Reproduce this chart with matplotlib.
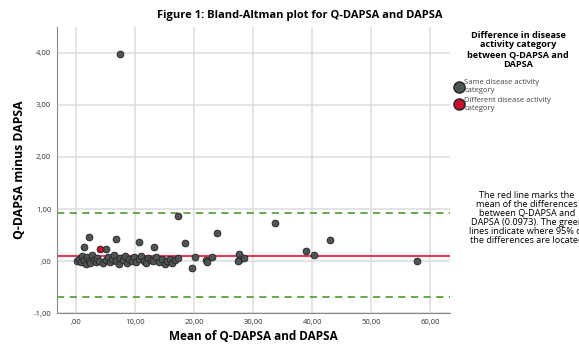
import numpy as np
import matplotlib.pyplot as plt
from matplotlib.lines import Line2D

# Datos (media, diferencia)
media_igual = [0.2, 0.5, 0.8, 1.0, 1.3, 1.6, 1.9, 2.1, 2.4, 2.7, 3.0, 3.3, 3.6, 3.9,
               4.6, 5.0, 5.4, 5.7, 6.0, 6.4, 6.8, 7.2, 7.5, 7.9, 8.3, 8.6, 9.0,
               9.4, 9.8, 10.2, 10.6, 11.0, 11.4, 11.8, 12.2, 12.6, 13.0, 13.5, 14.0,
               14.5, 15.0, 15.4, 15.9, 16.3, 16.8, 17.2,
               2.2, 6.7, 1.4, 5.1, 10.7, 13.2, 7.4, 17.3, 18.4, 19.6, 20.1,
               22.0, 22.2, 23.0, 23.9, 27.5, 27.6, 27.4, 28.5, 33.7, 38.9, 40.3,
               43.0, 57.8]
dif_igual = [0.00, 0.05, -0.02, 0.10, 0.02, -0.05, 0.08, 0.00, -0.03, 0.12, 0.03, -0.02,
             0.06, 0.00, -0.04, 0.02, 0.08, -0.01, 0.04, 0.12, 0.00, -0.05, 0.06,
             0.02, 0.10, -0.03, 0.05, 0.00, 0.08, -0.02, 0.04, 0.10, 0.00, -0.04, 0.06,
             0.02, 0.00, 0.08, -0.02, 0.04, -0.06, 0.00, 0.05, -0.03, 0.02, 0.06,
             0.47, 0.43, 0.27, 0.24, 0.37, 0.27, 3.97, 0.86, 0.34, -0.13, 0.08,
             0.02, -0.01, 0.08, 0.54, 0.13, 0.03, 0.00, 0.06, 0.74, 0.20, 0.11,
             0.41, 0.00]
media_dif = [4.1]
dif_dif = [0.24]

media_diferencias = 0.0973
lim_sup = 0.92
lim_inf = -0.69

x_ticks = [0, 10, 20, 30, 40, 50, 60]
x_labels = [",00", "10,00", "20,00", "30,00", "40,00", "50,00", "60,00"]
y_ticks = [-1, 0, 1, 2, 3, 4]
y_labels = ["-1,00", ",00", "1,00", "2,00", "3,00", "4,00"]

plt.rcParams['font.family'] = ['Open Sans', 'DejaVu Sans']

fig = plt.figure(figsize=(5.79, 3.46), dpi=100)
ax = fig.add_axes([0.098, 0.0945, 0.68, 0.8285])

ax.axhline(lim_sup, color="#5aa33f", lw=1.3, ls=(0, (4, 3)), zorder=2)
ax.axhline(lim_inf, color="#5aa33f", lw=1.3, ls=(0, (4, 3)), zorder=2)
ax.axhline(media_diferencias, color="#e8385e", lw=1.5, zorder=2)

ax.scatter(media_igual, dif_igual, s=24, color="#4f5553", edgecolor="#222222",
           linewidth=0.6, zorder=3)
ax.scatter(media_dif, dif_dif, s=24, color="#c8102e", edgecolor="#222222",
           linewidth=0.6, zorder=3)

ax.set_xlim(-3.3, 63.4)
ax.set_ylim(-1, 4.5)
ax.set_xticks(x_ticks)
ax.set_xticklabels(x_labels)
ax.set_yticks(y_ticks)
ax.set_yticklabels(y_labels)
ax.tick_params(labelsize=5.5, colors="#333333", length=0, pad=4)
ax.grid(True, color="#dcdcdc", lw=1.1, zorder=0)
ax.set_axisbelow(True)
for s in ["top", "right"]:
    ax.spines[s].set_visible(False)
for s in ["left", "bottom"]:
    ax.spines[s].set_color("#888888")
    ax.spines[s].set_linewidth(0.8)

ax.set_xlabel("Mean of Q-DAPSA and DAPSA", fontsize=8.5, fontweight="bold", labelpad=3)
ax.set_ylabel("Q-DAPSA minus DAPSA", fontsize=8.8, fontweight="bold", labelpad=5)

fig.text(0.517, 0.955, "Figure 1: Bland-Altman plot for Q-DAPSA and DAPSA",
         ha="center", va="center", fontsize=8, fontweight="bold")

# Leyenda
fig.text(0.895, 0.856, "Difference in disease\nactivity category\nbetween Q-DAPSA and\nDAPSA",
         ha="center", va="center", fontsize=6.6, fontweight="bold", linespacing=1.1)
handles = [Line2D([], [], marker="o", ls="", markersize=8, markerfacecolor="#4f5553",
                  markeredgecolor="#222222"),
           Line2D([], [], marker="o", ls="", markersize=8, markerfacecolor="#c8102e",
                  markeredgecolor="#222222")]
fig.legend(handles, ["Same disease activity\ncategory", "Different disease activity\ncategory"],
           loc="upper left", bbox_to_anchor=(0.78, 0.78), frameon=False,
           fontsize=5.5, handletextpad=0.05, labelspacing=0.35, borderaxespad=0,
           labelcolor="#444444", handlelength=1.2)

# Texto explicativo (cortado en el borde como en el original)
fig.text(0.91, 0.37, "The red line marks the\nmean of the differences\nbetween Q-DAPSA and\n"
         "DAPSA (0.0973). The green\nlines indicate where 95% of\nthe differences are located",
         ha="center", va="center", fontsize=6.6, linespacing=1.0)

fig.savefig("out.png", dpi=100)
